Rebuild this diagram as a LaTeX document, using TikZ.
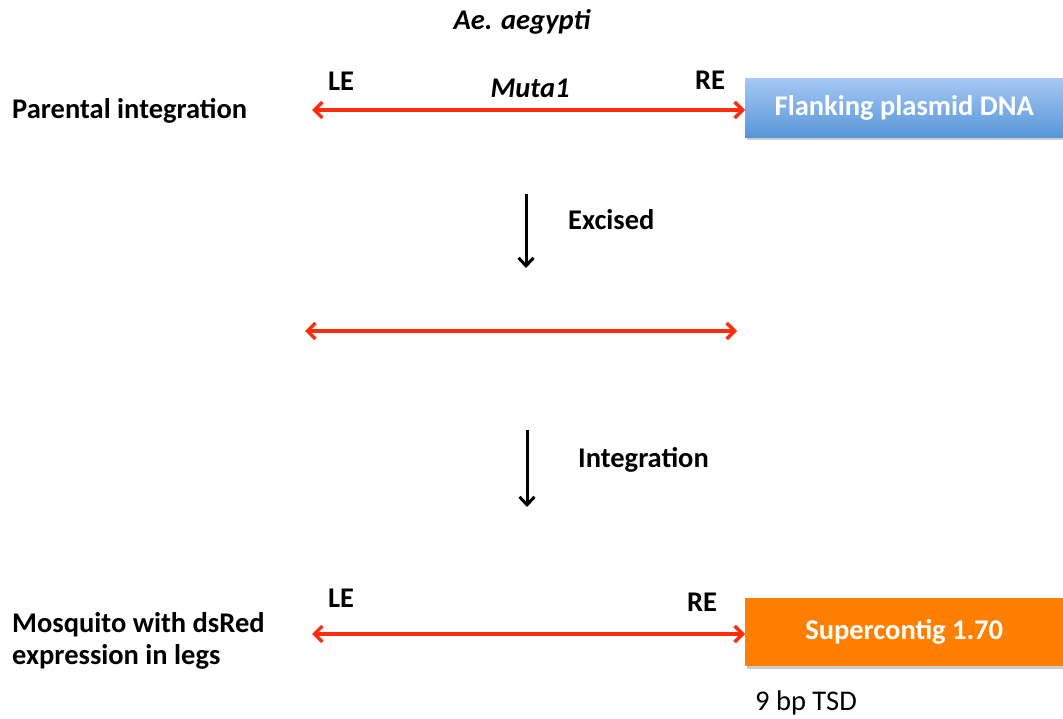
\documentclass[tikz,border=0pt]{standalone}
\usepackage{fontspec}
\setmainfont{Carlito}
\usetikzlibrary{arrows.meta,shadows}
\begin{document}
\begin{tikzpicture}[x=1pt,y=-1pt,
  lbl/.style={font=\fontsize{28.5}{32}\selectfont\bfseries,inner sep=0pt},
  dna/.style={draw={rgb,255:red,255;green,45;blue,15},line width=3.5pt,{Straight Barb[length=8pt,width=16pt,line width=3.5pt]}-{Straight Barb[length=8pt,width=16pt,line width=3.5pt]}},
  down/.style={draw=black,line width=3pt,-{Straight Barb[length=8pt,width=15pt,line width=3pt]}},
  boxstyle/.style={minimum width=318pt,minimum height=60pt,inner sep=0pt,text=white,font=\fontsize{28.5}{32}\selectfont\bfseries,drop shadow={shadow xshift=1.5pt,shadow yshift=-2.5pt,opacity=0.4}}]
\useasboundingbox (0,0) rectangle (1063,719);
\definecolor{blueTop}{RGB}{165,200,245}
\definecolor{blueBot}{RGB}{88,150,215}
\definecolor{orangebox}{RGB}{255,127,0}
% title
\node[lbl,font=\fontsize{28.5}{32}\selectfont\bfseries\itshape] (title) at (522,22) {Ae. aegypti};
% row 1
\node[lbl,anchor=west] (parental) at (12,111) {Parental integration};
\node[lbl] (le1) at (341,81) {LE};
\node[lbl] (re1) at (710,80) {RE};
\node[lbl,font=\fontsize{28.5}{32}\selectfont\bfseries\itshape] (muta) at (530,88) {Muta1};
\node[boxstyle,top color=blueTop,bottom color=blueBot,anchor=north west,minimum height=59pt] (flank) at (745,78) {Flanking plasmid DNA};
\coordinate (a1l) at (312,110);
\draw[dna] (a1l) -- (flank.west |- a1l);
% excised
\coordinate (d1t) at (526,194);
\coordinate (d1b) at (526,268);
\draw[down] (d1t) -- (d1b);
\node[lbl,anchor=west] (excised) at (568,220) {Excised};
% middle
\coordinate (a2l) at (305,331);
\coordinate (a2r) at (737,331);
\draw[dna] (a2l) -- (a2r);
% integration
\coordinate (d2t) at (527,430);
\coordinate (d2b) at (527,507);
\draw[down] (d2t) -- (d2b);
\node[lbl,anchor=west] (integ) at (578,460) {Integration};
% bottom
\node[lbl,anchor=west,align=left,font=\fontsize{28.5}{32}\selectfont\bfseries] (mosq) at (12,641) {Mosquito with dsRed\\expression in legs};
\node[lbl] (le2) at (341,598) {LE};
\node[lbl] (re2) at (702,602) {RE};
\node[boxstyle,fill=orangebox,anchor=north west,minimum height=68pt] (super) at (745,598) {Supercontig 1.70};
\coordinate (a3l) at (312,634);
\draw[dna] (a3l) -- (super.west |- a3l);
\node[inner sep=0pt,anchor=west,font=\fontsize{28.5}{32}\selectfont] (tsd) at (755,703) {9 bp TSD};
\end{tikzpicture}
\end{document}
